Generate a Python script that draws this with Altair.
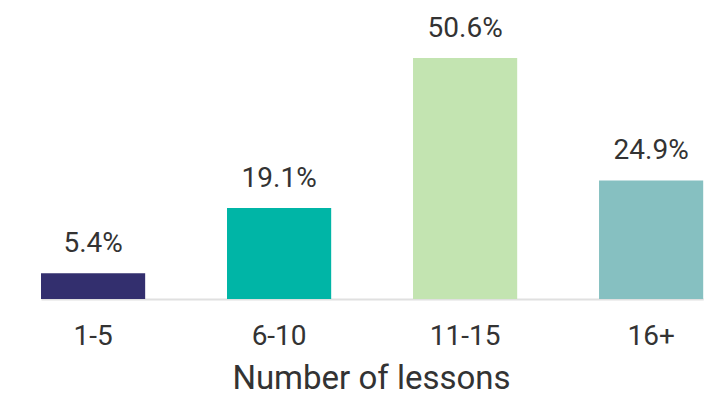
import altair as alt
import pandas as pd

categories = ["1-5", "6-10", "11-15", "16+"]
values = [5.4, 19.1, 50.6, 24.9]
labels = ["5.4%", "19.1%", "50.6%", "24.9%"]
colors = ["#332f6e", "#00b5a6", "#c3e4b1", "#86c0c1"]

df = pd.DataFrame({"cat": categories, "val": values, "lab": labels})

FONT = "Roboto"

x = alt.X(
    "cat:N",
    sort=categories,
    scale=alt.Scale(range=[31, 693.2], paddingInner=0.44, paddingOuter=0),
    axis=alt.Axis(
        title="Number of lessons",
        labelAngle=0,
        ticks=False,
        tickSize=0,
        labelPadding=45,
        labelBaseline="alphabetic",
        labelFont=FONT,
        labelFontSize=28,
        labelColor="#333333",
        titleFont=FONT,
        titleFontSize=33,
        titleFontWeight="normal",
        titleColor="#333333",
        titleBaseline="alphabetic",
        titleY=89,
        titleX=361,
        titleAnchor="middle",
        titleAlign="center",
        domainColor="#e0e0e0",
        domainWidth=2,
        grid=False,
    ),
)
y = alt.Y("val:Q", scale=alt.Scale(domain=[0, 62.8], nice=False), axis=None)

bars = alt.Chart(df).mark_bar().encode(
    x=x,
    y=y,
    color=alt.Color("cat:N", scale=alt.Scale(domain=categories, range=colors), legend=None),
)
text = alt.Chart(df).mark_text(
    baseline="alphabetic", dy=-21, font=FONT, fontSize=28, color="#333333"
).encode(x=alt.X("cat:N", sort=categories), y="val:Q", text="lab:N")

chart = (
    alt.layer(bars, text)
    .properties(
        width=714,
        height=299,
        autosize=alt.AutoSizeParams(type="none"),
        padding={"left": 10, "top": 0, "right": 0, "bottom": 95},
    )
    .configure_view(stroke=None)
)

chart.save("out.html", embed_options={"renderer": "svg", "actions": False})
